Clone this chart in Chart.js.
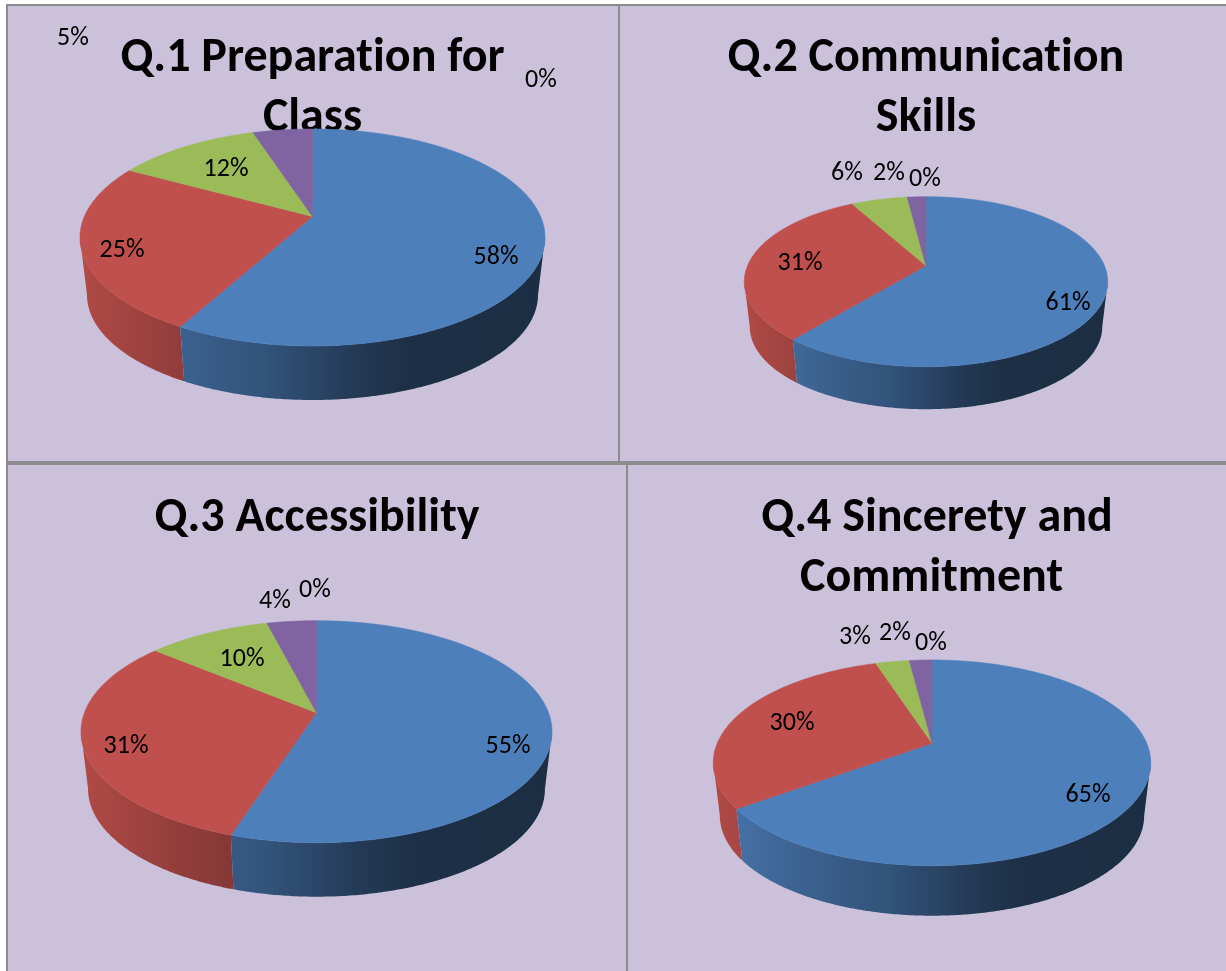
<!DOCTYPE html>
<html>
<head>
<meta charset="utf-8">
<style>
html,body{margin:0;padding:0;background:#fff;width:1226px;height:971px;overflow:hidden;position:relative}
.panel{position:absolute;background:#cbc1da}
canvas{position:absolute;display:block}
.rule{position:absolute;background:#8c8c8c}
</style>
<script src="https://cdn.jsdelivr.net/npm/chart.js@4"></script>
</head>
<body>
<div class="panel" style="left:6px;top:4px;width:1220px;height:967px"></div>
<canvas id="q1" width="611" height="455" style="left:7px;top:6px"></canvas>
<canvas id="q2" width="612" height="455" style="left:620px;top:6px"></canvas>
<canvas id="q3" width="618" height="506" style="left:8px;top:465px"></canvas>
<canvas id="q4" width="620" height="506" style="left:627px;top:465px"></canvas>
<div class="rule" style="left:6px;top:4px;width:1220px;height:2px"></div>
<div class="rule" style="left:6px;top:4px;width:2px;height:967px"></div>
<div class="rule" style="left:618px;top:4px;width:2px;height:458px"></div>
<div class="rule" style="left:6px;top:461px;width:1220px;height:4px"></div>
<div class="rule" style="left:626px;top:465px;width:2px;height:506px"></div>
<script>
// ---- data ----
const categories = ['Response A', 'Response B', 'Response C', 'Response D', 'Response E'];
const q1Values = [58, 25, 12, 5, 0];
const q2Values = [61, 31, 6, 2, 0];
const q3Values = [55, 31, 10, 4, 0];
const q4Values = [65, 30, 3, 2, 0];
const q1Title = ['Q.1 Preparation for', 'Class'];
const q2Title = ['Q.2 Communication', 'Skills'];
const q3Title = ['Q.3 Accessibility'];
const q4Title = ['Q.4 Sincerety and', 'Commitment '];

// ---- styles and layout ----
const sliceColors = ['#4d7fbb', '#bf504d', '#9bbb59', '#8064a2', '#4bacc6'];
const wallShade = [[0, .92], [.22, .76], [.4, .65], [.6, .45], [.7, .38], [1, .36]];
const wallInset = 0.97;
const panels = [
  {id:'q1', values:q1Values, title:q1Title, left:7, top:6, titleTop:23,
   pie:{cx:312.5, apexY:216.5, up:87.5, down:129.5, rx:232.5, depth:54},
   labels:[[496,257],[122,250],[226,169],[73,38],[541,80]]},
  {id:'q2', values:q2Values, title:q2Title, left:620, top:6, titleTop:23,
   pie:{cx:926, apexY:265.7, up:69, down:101, rx:181.7, depth:42.5},
   labels:[[1068,303],[800,263],[847,173],[889,173],[925,179]]},
  {id:'q3', values:q3Values, title:q3Title, left:8, top:465, titleTop:24,
   pie:{cx:316.5, apexY:712.7, up:92, down:130, rx:235.5, depth:54},
   labels:[[508,746],[126,746],[242,659],[275,601],[315,590]]},
  {id:'q4', values:q4Values, title:q4Title, left:627, top:465, titleTop:24,
   pie:{cx:932, apexY:743.3, up:83.3, down:122.4, rx:218.7, depth:50},
   labels:[[1088,795],[792,723],[855,637],[895,633],[931,643]]}
];
const labelFont = '26px Carlito, Lato';

function shade(hex, f){
  const n = parseInt(hex.slice(1), 16);
  const c = [n >> 16 & 255, n >> 8 & 255, n & 255].map(v => Math.round(v * f));
  return 'rgb(' + c.join(',') + ')';
}

// Perspective view of the library's pie: every slice angle comes from Chart.js' arc elements.
function perspectivePlugin(panel){
  const g = panel.pie;
  const p = (g.down - g.up) / (g.down + g.up);
  const A = g.up * (1 + p);
  const B = g.rx * Math.sqrt(1 - p * p);
  const cx = g.cx - panel.left;
  const ay = g.apexY - panel.top;
  const topPt = th => {
    const d = 1 + p * Math.cos(th);
    return [cx + B * Math.sin(th) / d, ay - A * Math.cos(th) / d];
  };
  const baseAy = ay + g.down * (1 - wallInset) + g.depth;
  const basePt = th => {
    const d = 1 + p * Math.cos(th);
    return [cx + wallInset * B * Math.sin(th) / d, baseAy - wallInset * A * Math.cos(th) / d];
  };
  const samples = (a, b) => {
    const n = Math.max(2, Math.ceil((b - a) / 0.01));
    const out = [];
    for (let i = 0; i <= n; i++) out.push(a + (b - a) * i / n);
    return out;
  };
  const wallFill = (ctx, color) => {
    const gr = ctx.createLinearGradient(cx - g.rx, 0, cx + g.rx, 0);
    wallShade.forEach(s => gr.addColorStop(s[0], shade(color, s[1])));
    return gr;
  };
  // the rim's widest points: the wall is visible only between them
  const frontStart = Math.acos(-p);
  const frontEnd = 2 * Math.PI - frontStart;
  return {
    id: 'perspective-' + panel.id,
    beforeDraw(chart){
      // keep the title letters separate (no "ti" ligature), as in the reference
      chart.ctx.letterSpacing = '0.01px';
    },
    beforeDatasetsDraw(chart){
      const ctx = chart.ctx;
      const arcs = chart.getDatasetMeta(0).data;
      const angle = a => a + Math.PI / 2;
      ctx.save();
      // side walls
      for (let i = arcs.length - 1; i >= 0; i--) {
        const a = arcs[i];
        const from = Math.max(angle(a.startAngle), frontStart);
        const to = Math.min(angle(a.endAngle), frontEnd);
        if (to <= from) continue;
        const t = samples(from, to);
        ctx.beginPath();
        t.forEach((th, k) => { const q = topPt(th); k ? ctx.lineTo(q[0], q[1]) : ctx.moveTo(q[0], q[1]); });
        t.slice().reverse().forEach(th => { const q = basePt(th); ctx.lineTo(q[0], q[1]); });
        ctx.closePath();
        ctx.fillStyle = wallFill(ctx, sliceColors[i]);
        ctx.fill();
      }
      // top faces
      arcs.forEach((a, i) => {
        if (a.endAngle - a.startAngle <= 0) return;
        const t = samples(angle(a.startAngle), angle(a.endAngle));
        ctx.beginPath();
        ctx.moveTo(cx, ay);
        t.forEach(th => { const q = topPt(th); ctx.lineTo(q[0], q[1]); });
        ctx.closePath();
        ctx.fillStyle = sliceColors[i];
        ctx.strokeStyle = sliceColors[i];
        ctx.lineWidth = 0.6;
        ctx.fill();
        ctx.stroke();
      });
      // value labels
      ctx.font = labelFont;
      ctx.fillStyle = '#000';
      ctx.textAlign = 'center';
      ctx.textBaseline = 'middle';
      panel.values.forEach((v, i) => {
        const pos = panel.labels[i];
        ctx.fillText(v + '%', pos[0] - panel.left, pos[1] - panel.top);
      });
      ctx.restore();
      return false;
    }
  };
}

panels.forEach(panel => {
  new Chart(document.getElementById(panel.id), {
    type: 'pie',
    data: {
      labels: categories,
      datasets: [{data: panel.values, backgroundColor: sliceColors, borderWidth: 0}]
    },
    options: {
      responsive: false,
      animation: false,
      layout: {padding: 0},
      plugins: {
        legend: {display: false},
        tooltip: {enabled: false},
        title: {
          display: true,
          text: panel.title,
          color: '#000',
          font: {family: 'Carlito, Lato', size: 48, weight: 'bold', lineHeight: 60 / 48},
          padding: {top: panel.titleTop, bottom: 0}
        }
      }
    },
    plugins: [perspectivePlugin(panel)]
  });
});
</script>
</body>
</html>
